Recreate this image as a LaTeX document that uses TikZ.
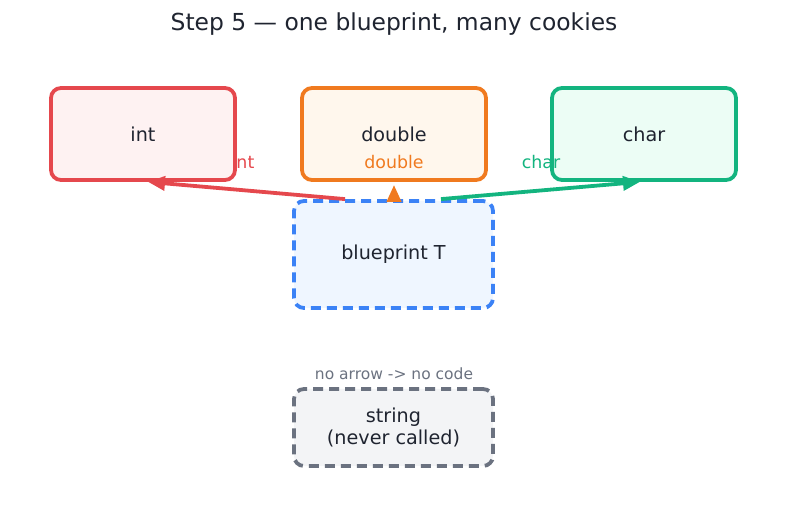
\documentclass[tikz,border=0pt]{standalone}
\usepackage{fontspec}
\setmainfont{DejaVu Sans}
\usetikzlibrary{arrows.meta}
\definecolor{cred}{HTML}{E5484D}
\definecolor{fred}{HTML}{FEF2F2}
\definecolor{corange}{HTML}{F07A1F}
\definecolor{forange}{HTML}{FFF7ED}
\definecolor{cgreen}{HTML}{13B47F}
\definecolor{fgreen}{HTML}{ECFDF5}
\definecolor{cblue}{HTML}{3B82F6}
\definecolor{fblue}{HTML}{EFF6FF}
\definecolor{cgray}{HTML}{6B7280}
\definecolor{fgray}{HTML}{F3F4F6}
\definecolor{ctext}{HTML}{1F2430}
\tikzset{
  box/.style={draw, line width=3.8pt, rounded corners=10pt, inner sep=0pt, align=center,
    text=ctext, font=\fontsize{19.2}{22}\selectfont},
  dashbox/.style={box, dash pattern=on 10pt off 6pt},
  conn/.style={line width=3.8pt, -{Triangle[length=17pt,width=14pt]}},
  lbl/.style={font=\fontsize{17.4}{20}\selectfont},
}
\begin{document}
\begin{tikzpicture}[x=1pt,y=-1pt]
\useasboundingbox (0,0) rectangle (787,510);
\node[font=\fontsize{23.4}{28}\selectfont, text=ctext] (title) at (394,24) {Step 5 — one blueprint, many cookies};
\node[box, draw=cred, fill=fred, minimum width=184pt, minimum height=92pt] (int) at (143,134) {int};
\node[box, draw=corange, fill=forange, minimum width=184pt, minimum height=92pt] (dbl) at (394,134) {double};
\node[box, draw=cgreen, fill=fgreen, minimum width=184pt, minimum height=92pt] (chr) at (644,134) {char};
\node[dashbox, draw=cblue, fill=fblue, minimum width=199pt, minimum height=107pt] (bp) at (393.5,254.5) {blueprint T};
\node[dashbox, draw=cgray, fill=fgray, minimum width=199pt, minimum height=77pt] (str) at (393.5,427.5) {string\\(never called)};
\draw[conn, draw=cred, fill=cred] ([xshift=-48.5pt]bp.north) -- ([xshift=5pt]int.south);
\draw[conn, draw=corange, fill=corange, shorten >=3pt] ([xshift=0.5pt]bp.north) -- (dbl.south);
\draw[conn, draw=cgreen, fill=cgreen] ([xshift=47.5pt]bp.north) -- ([xshift=-4pt]chr.south);
\node[lbl, text=cred] (lint) at (243,162) {int};
\node[lbl, text=corange] (ldbl) at (394,162) {double};
\node[lbl, text=cgreen] (lchr) at (541,162) {char};
\node[font=\fontsize{15.5}{18}\selectfont, text=cgray] (note) at (394,374) {no arrow -> no code};
\end{tikzpicture}
\end{document}
